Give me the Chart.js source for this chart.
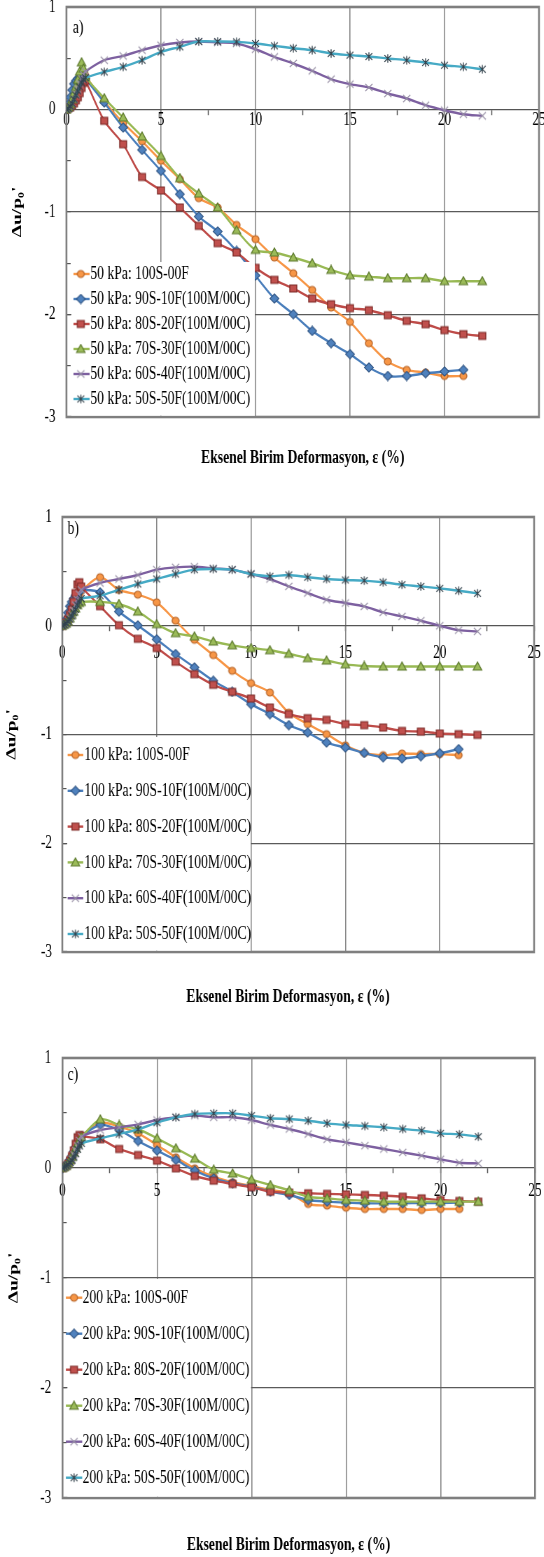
<!DOCTYPE html>
<html><head><meta charset="utf-8">
<script src="https://cdn.jsdelivr.net/npm/chart.js@4.4.1/dist/chart.umd.min.js"></script>
<style>
html,body{margin:0;padding:0;background:#fff;width:544px;height:1557px;overflow:hidden;position:relative;}
.wrap{position:absolute;left:0;width:777px;transform:scaleX(0.7);transform-origin:0 0;}
</style></head><body>
<div class="wrap" id="w0"><canvas id="c0"></canvas></div>
<div class="wrap" id="w1"><canvas id="c1"></canvas></div>
<div class="wrap" id="w2"><canvas id="c2"></canvas></div>
<script>
// ---------------- DATA ----------------
const STRAIN = [0,0.1,0.2,0.3,0.4,0.5,0.6,0.7,0.8,0.9,1,2,3,4,5,6,7,8,9,10,11,12,13,14,15,16,17,18,19,20,21,22];
const SERIES_NAMES = ['100S-00F','90S-10F(100M/00C)','80S-20F(100M/00C)','70S-30F(100M/00C)','60S-40F(100M/00C)','50S-50F(100M/00C)'];
const PRESSURES = ['50 kPa','100 kPa','200 kPa'];
const PANEL_TAGS = ['a)','b)','c)'];
const X_TICK_LABELS = ['0','5','10','15','20','25'];
const Y_TICK_LABELS = ['-3','-2','-1','0','1'];
const X_TITLE = 'Eksenel Birim Deformasyon, ε (%)';
const Y_TITLE = "Δu/p₀'";

// 50 kPa
const A_100S = [0,0.01,0.03,0.06,0.1,0.15,0.2,0.26,0.32,0.36,0.33, 0.08,-0.13,-0.31,-0.5,-0.68,-0.865,-0.956,-1.126,-1.265,-1.444,-1.597,-1.76,-1.932,-2.072,-2.28,-2.459,-2.54,-2.566,-2.6,-2.6,null];
const A_90S  = [0,0.05,0.12,0.19,0.25,0.28,0.3,0.31,0.31,0.31,0.3, 0.068,-0.176,-0.394,-0.599,-0.826,-1.044,-1.19,-1.38,-1.62,-1.844,-1.997,-2.16,-2.28,-2.387,-2.517,-2.6,-2.6,-2.573,-2.556,-2.54,null];
const A_80S  = [0,0.01,0.02,0.04,0.06,0.09,0.12,0.16,0.21,0.26,0.28, -0.11,-0.339,-0.658,-0.79,-0.956,-1.135,-1.304,-1.395,-1.545,-1.662,-1.746,-1.844,-1.9,-1.938,-1.958,-2.007,-2.062,-2.095,-2.153,-2.192,-2.209];
const A_70S  = [0,0.02,0.05,0.1,0.16,0.22,0.29,0.37,0.46,0.4,0.32, 0.11,-0.078,-0.263,-0.453,-0.67,-0.82,-0.956,-1.178,-1.37,-1.395,-1.444,-1.5,-1.565,-1.617,-1.63,-1.646,-1.646,-1.646,-1.675,-1.675,-1.675];
const A_60S  = [0,0.01,0.03,0.06,0.1,0.15,0.2,0.25,0.3,0.34,0.37, 0.481,0.523,0.579,0.627,0.654,0.663,0.654,0.644,0.588,0.513,0.449,0.377,0.296,0.247,0.215,0.156,0.107,0.042,-0.007,-0.046,-0.062];
const A_50S  = [0,0.01,0.03,0.06,0.1,0.14,0.18,0.22,0.26,0.29,0.31, 0.367,0.416,0.481,0.562,0.611,0.663,0.663,0.66,0.644,0.621,0.598,0.579,0.546,0.53,0.517,0.498,0.481,0.458,0.432,0.416,0.393];
// 100 kPa
const B_100S = [0,0.01,0.03,0.05,0.08,0.11,0.15,0.2,0.25,0.29,0.32, 0.446,0.329,0.286,0.215,0.046,-0.129,-0.27,-0.414,-0.528,-0.614,-0.8,-0.905,-0.997,-1.1,-1.17,-1.19,-1.175,-1.18,-1.18,-1.19,null];
const B_90S  = [0,0.02,0.06,0.12,0.18,0.22,0.25,0.28,0.3,0.32,0.33, 0.307,0.13,0.003,-0.125,-0.26,-0.383,-0.506,-0.608,-0.721,-0.813,-0.914,-0.982,-1.074,-1.12,-1.17,-1.21,-1.22,-1.2,-1.172,-1.135,null];
const B_80S  = [0,0.015,0.03,0.06,0.1,0.15,0.22,0.3,0.38,0.4,0.36, 0.18,0.005,-0.12,-0.205,-0.331,-0.445,-0.543,-0.608,-0.669,-0.752,-0.813,-0.85,-0.865,-0.905,-0.914,-0.936,-0.967,-0.973,-0.991,-0.997,-1.003];
const B_70S  = [0,0.01,0.02,0.04,0.07,0.1,0.13,0.16,0.19,0.21,0.22, 0.22,0.2,0.13,0.015,-0.068,-0.098,-0.145,-0.18,-0.205,-0.225,-0.258,-0.298,-0.32,-0.355,-0.37,-0.375,-0.375,-0.375,-0.375,-0.375,-0.375];
const B_60S  = [0,0.01,0.02,0.04,0.07,0.1,0.14,0.19,0.24,0.29,0.33, 0.393,0.43,0.467,0.516,0.537,0.543,0.528,0.516,0.476,0.43,0.362,0.301,0.239,0.209,0.178,0.123,0.086,0.046,0,-0.04,-0.052];
const B_50S  = [0,0.01,0.02,0.04,0.06,0.09,0.12,0.15,0.19,0.22,0.25, 0.276,0.331,0.384,0.43,0.476,0.516,0.522,0.516,0.476,0.455,0.467,0.446,0.43,0.421,0.415,0.4,0.378,0.362,0.344,0.322,0.298];
// 200 kPa
const C_100S = [0,0.01,0.02,0.04,0.07,0.1,0.14,0.18,0.22,0.26,0.29, 0.412,0.376,0.315,0.209,0.097,-0.003,-0.079,-0.13,-0.164,-0.2,-0.23,-0.327,-0.342,-0.361,-0.373,-0.373,-0.373,-0.382,-0.373,-0.373,null];
const C_90S  = [0,0.01,0.03,0.05,0.08,0.11,0.15,0.19,0.23,0.26,0.29, 0.391,0.345,0.245,0.158,0.073,-0.024,-0.094,-0.139,-0.17,-0.215,-0.245,-0.291,-0.306,-0.315,-0.321,-0.321,-0.321,-0.318,-0.318,-0.315,null];
const C_80S  = [0,0.01,0.02,0.04,0.07,0.11,0.16,0.22,0.28,0.3,0.29, 0.261,0.173,0.118,0.067,-0.003,-0.073,-0.115,-0.145,-0.175,-0.215,-0.225,-0.23,-0.235,-0.24,-0.245,-0.252,-0.261,-0.276,-0.291,-0.3,-0.306];
const C_70S  = [0,0.01,0.02,0.04,0.07,0.1,0.14,0.18,0.22,0.25,0.28, 0.442,0.391,0.352,0.27,0.179,0.085,-0.015,-0.05,-0.105,-0.155,-0.203,-0.261,-0.276,-0.291,-0.297,-0.306,-0.306,-0.306,-0.306,-0.306,-0.306];
const C_60S  = [0,0.01,0.02,0.03,0.05,0.08,0.12,0.16,0.2,0.25,0.285, 0.345,0.37,0.397,0.436,0.461,0.476,0.461,0.461,0.436,0.391,0.355,0.309,0.261,0.233,0.203,0.173,0.142,0.112,0.079,0.048,0.042];
const C_50S  = [0,0.01,0.02,0.03,0.05,0.07,0.1,0.13,0.17,0.2,0.224, 0.27,0.309,0.352,0.412,0.461,0.491,0.497,0.497,0.476,0.452,0.445,0.43,0.406,0.391,0.382,0.37,0.355,0.339,0.315,0.306,0.285];

const PANELS = [
  [A_100S, A_90S, A_80S, A_70S, A_60S, A_50S],
  [B_100S, B_90S, B_80S, B_70S, B_60S, B_50S],
  [C_100S, C_90S, C_80S, C_70S, C_60S, C_50S]
];

// ---------------- STYLE / LAYOUT ----------------
const SX = 0.7; // horizontal squeeze of the whole figure
const FONT = 'Liberation Serif';
const STYLE = [
  {line:'#F79646', fill:'#F79646', edge:'#B8662B', shape:'circle'},
  {line:'#4A7EBB', fill:'#4F81BD', edge:'#2F5483', shape:'diamond'},
  {line:'#BE4B48', fill:'#C0504D', edge:'#7F2D2A', shape:'square'},
  {line:'#98B954', fill:'#9BBB59', edge:'#5E7A2E', shape:'triangle'},
  {line:'#7D60A0', fill:null, edge:'#9890A6', shape:'x'},
  {line:'#46AAC5', fill:null, edge:'#34434D', shape:'star'}
];
const LAYOUT = [
  {top:-5, h:475, left:94.9, right:7, titlePad:29.6, yTitlePad:13.3, xPad:-5.7, yPad:21.6,
   tag:{x:104, y:32.5},
   legend:{top:267, right:364, row0:279, gap:25, l0:105, l1:127.9, mx:115.4, tx:129}},
  {top:505, h:504, left:89, right:14, titlePad:33.6, yTitlePad:5.4, xPad:10.9, yPad:20.7,
   tag:{x:96.6, y:24},
   legend:{top:232, right:358.1, row0:250, gap:35.8, l0:96.6, l1:118.9, mx:107.7, tx:120.4}},
  {top:1046, h:511, left:89.3, right:12.7, titlePad:35.6, yTitlePad:8.3, xPad:7.1, yPad:22,
   tag:{x:96.6, y:29},
   legend:{top:233, right:358.6, row0:251.7, gap:36, l0:94.1, l1:117.4, mx:105.7, tx:117.9}}
];

function makeMarker(st) {
  const size = 11;
  const c = document.createElement('canvas');
  c.width = Math.ceil(size / SX); c.height = size;
  const g = c.getContext('2d');
  g.setTransform(1 / SX, 0, 0, 1, c.width / 2, size / 2);
  g.lineWidth = 1; g.strokeStyle = st.edge;
  g.beginPath();
  switch (st.shape) {
    case 'circle': g.arc(0, 0, 3.5, 0, Math.PI * 2); break;
    case 'diamond': g.moveTo(0, -4.6); g.lineTo(4.4, 0); g.lineTo(0, 4.6); g.lineTo(-4.4, 0); g.closePath(); break;
    case 'square': g.rect(-3.5, -3.5, 7, 7); break;
    case 'triangle': g.moveTo(0, -4.5); g.lineTo(4.3, 3.6); g.lineTo(-4.3, 3.6); g.closePath(); break;
    case 'x': g.moveTo(-3.6, -3.6); g.lineTo(3.6, 3.6); g.moveTo(-3.6, 3.6); g.lineTo(3.6, -3.6); break;
    case 'star': g.moveTo(-3.4, -3.4); g.lineTo(3.4, 3.4); g.moveTo(-3.4, 3.4); g.lineTo(3.4, -3.4); g.moveTo(0, -4.2); g.lineTo(0, 4.2); break;
  }
  if (st.fill) { g.fillStyle = st.fill; g.fill(); }
  g.stroke();
  return c;
}
const MARKERS = STYLE.map(makeMarker);

const panelPlugin = {
  id: 'panel',
  beforeDatasetsDraw(chart, args, o) {
    const {ctx, chartArea: a} = chart;
    ctx.save();
    ctx.strokeStyle = '#7f7f7f';
    ctx.lineWidth = 2.6;
    ctx.strokeRect(a.left, a.top, a.right - a.left, a.bottom - a.top);
    ctx.restore();
  },
  afterDatasetsDraw(chart, args, o) {
    const {ctx, chartArea: a} = chart;
    const L = o.legend;
    ctx.save();
    ctx.font = '19.5px "' + FONT + '"';
    ctx.textBaseline = 'middle'; ctx.textAlign = 'left';
    ctx.fillStyle = '#000';
    ctx.fillText(o.tag, o.tagX, o.tagY);
    ctx.fillStyle = '#fff';
    ctx.fillRect(a.left + 7, L.top, L.right - a.left - 7, a.bottom - 1.4 - L.top);
    chart.data.datasets.forEach((ds, i) => {
      const y = L.row0 + i * L.gap;
      ctx.strokeStyle = ds.borderColor; ctx.lineWidth = ds.borderWidth;
      ctx.beginPath(); ctx.moveTo(L.l0, y); ctx.lineTo(L.l1, y); ctx.stroke();
      const m = ds.pointStyle;
      ctx.drawImage(m, L.mx - m.width / 2, y - m.height / 2);
      ctx.fillStyle = '#000';
      ctx.fillText(ds.label, L.tx, y);
    });
    ctx.restore();
  }
};

function build(k) {
  const Lk = LAYOUT[k];
  const wrap = document.getElementById('w' + k);
  wrap.style.top = Lk.top + 'px';
  wrap.style.height = Lk.h + 'px';
  const datasets = PANELS[k].map((ys, i) => ({
    label: PRESSURES[k] + ': ' + SERIES_NAMES[i],
    data: ys.map((y, j) => ({x: STRAIN[j], y: y})).filter(p => p.y !== null),
    borderColor: STYLE[i].line,
    backgroundColor: STYLE[i].fill || STYLE[i].line,
    borderWidth: 2.4,
    pointStyle: MARKERS[i],
    pointRadius: 4,
    tension: 0.3,
    fill: false,
    order: 5 - i,
    xAxisID: 'x', yAxisID: 'y'
  }));
  const tickFont = {family: FONT, size: 19};
  const titleFont = {family: FONT, size: 19.5, weight: 'bold'};
  new Chart(document.getElementById('c' + k), {
    type: 'line',
    data: {datasets},
    plugins: [panelPlugin],
    options: {
      responsive: true, maintainAspectRatio: false, animation: false, events: [],
      layout: {padding: {top: 12, left: 0, right: Lk.right, bottom: 0}},
      plugins: {
        legend: {display: false}, tooltip: {enabled: false},
        panel: {tag: PANEL_TAGS[k], tagX: Lk.tag.x, tagY: Lk.tag.y, legend: Lk.legend}
      },
      scales: {
        x: {
          type: 'linear', position: {y: 0}, min: 0, max: 25,
          afterFit(s) { s.paddingLeft = 0; s.paddingRight = 0; },
          ticks: {stepSize: 2.5, autoSkip: false, maxRotation: 0, padding: Lk.xPad, font: tickFont, color: '#000',
            callback: v => (v % 5 === 0 ? X_TICK_LABELS[v / 5] : '')},
          grid: {drawOnChartArea: false, drawTicks: true, tickLength: 5, tickColor: '#555', tickWidth: 1.5},
          border: {display: true, color: '#555', width: 1.2}
        },
        xb: {
          type: 'linear', position: 'bottom', min: 0, max: 25,
          ticks: {display: false, stepSize: 5},
          grid: {drawTicks: false, lineWidth: 1.6,
            color: c => (c.tick && c.tick.value > 0 && c.tick.value < 25 ? '#858585' : 'rgba(0,0,0,0)')},
          border: {display: false},
          title: {display: true, text: k === 0 ? X_TITLE : X_TITLE + '\u2002\u2002\u2002', font: titleFont, color: '#000',
            padding: {top: Lk.titlePad, bottom: 0}}
        },
        y: {
          type: 'linear', position: 'left', min: -3, max: 1,
          afterFit(s) { s.width = Lk.left; s.paddingTop = 0; s.paddingBottom = 0; },
          ticks: {stepSize: 0.5, autoSkip: false, padding: Lk.yPad, font: tickFont, color: '#000',
            callback: v => (Number.isInteger(v) ? Y_TICK_LABELS[v + 3] : '')},
          grid: {lineWidth: 1.2, drawTicks: true, tickLength: -6, tickColor: '#555', tickWidth: 1.2,
            color: c => (c.tick && (c.tick.value === -1 || c.tick.value === -2) ? '#5a5a5a' : 'rgba(0,0,0,0)')},
          border: {display: false},
          title: {display: true, text: Y_TITLE, font: titleFont, color: '#000', padding: {top: Lk.yTitlePad, bottom: 0}}
        }
      }
    }
  });
}
[0, 1, 2].forEach(build);
</script>
</body></html>
